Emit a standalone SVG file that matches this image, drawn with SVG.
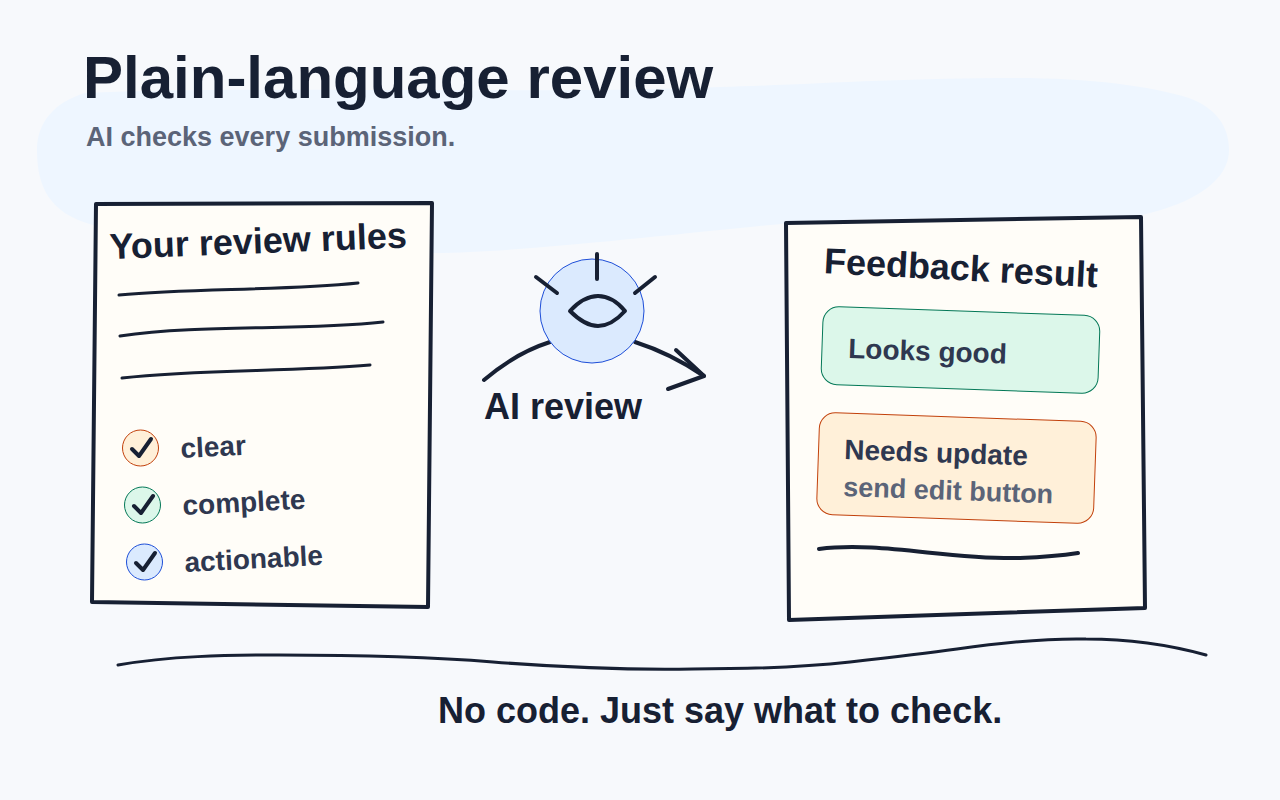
<svg xmlns="http://www.w3.org/2000/svg" width="1280" height="800" viewBox="0 0 1280 800">
<style>
text{font-family:"Liberation Sans",Arial,sans-serif;font-weight:700}
.ink{fill:none;stroke:#172033;stroke-linecap:round;stroke-linejoin:round}
.paper{fill:#fffdf8;stroke:#172033;stroke-width:4;stroke-linejoin:round}
.h{fill:#172033}
.b{fill:#2f3850}
.m{fill:#5b6478}
</style>
<rect width="1280" height="800" fill="#f7f9fc"/>
<path id="blob" d="M85 93C55 102 37 122 37 150C37 185 48 213 93 225C180 240 330 255 434 253C520 252 640 238 790 223C900 214 1050 222 1142 215C1195 203 1229 180 1229 150C1229 125 1215 108 1189 98C1150 86 1090 78 1015 78C900 78 800 85 720 87C520 95 250 85 85 93Z" fill="#eef6ff"/>
<text x="83" y="98" font-size="60" class="h">Plain-language review</text>
<text x="86" y="146" font-size="27" class="m">AI checks every submission.</text>
<g id="rules">
<path class="paper" d="M96 204L432 203L428 607L92 602Z"/>
<text transform="translate(110 259) rotate(-2.2)" font-size="36" class="h">Your review rules</text>
<path class="ink" stroke-width="3" d="M119 295C190 288 280 291 358 283"/>
<path class="ink" stroke-width="3" d="M120 336C200 324 300 331 383 322"/>
<path class="ink" stroke-width="3" d="M122 378C200 369 290 372 370 365"/>
</g>
<g id="check-clear">
<circle cx="140.500" cy="448" r="18" fill="#fff0d9" stroke="#c2410c" stroke-width="1"/>
<path class="ink" stroke-width="4" d="M132 449L139 456L151 439"/>
<text transform="translate(181 458) rotate(-3)" font-size="28" class="b">clear</text>
</g>
<g id="check-complete">
<circle cx="142.500" cy="505" r="18" fill="#dcf7ea" stroke="#047857" stroke-width="1"/>
<path class="ink" stroke-width="4" d="M134 506L141 513L153 496"/>
<text transform="translate(183 515) rotate(-3)" font-size="28" class="b">complete</text>
</g>
<g id="check-actionable">
<circle cx="144.500" cy="562" r="18" fill="#dbeafe" stroke="#1d4ed8" stroke-width="1"/>
<path class="ink" stroke-width="4" d="M136 563L143 570L155 553"/>
<text transform="translate(185 572) rotate(-3)" font-size="28" class="b">actionable</text>
</g>
<g id="connectors">
<path class="ink" stroke-width="4" d="M484 380C505 362 525 350 550 342"/>
<path class="ink" stroke-width="4" d="M635 342C660 350 685 363 704 376"/>
<path class="ink" stroke-width="4" d="M676 350L704 376L668 389"/>
</g>
<g id="ai-review">
<circle cx="592" cy="311" r="52" fill="#dbeafe" stroke="#1d4ed8" stroke-width="1"/>
<path class="ink" stroke-width="4" d="M597 254V279"/>
<path class="ink" stroke-width="4" d="M536 277L557 293"/>
<path class="ink" stroke-width="4" d="M655 277L635 293"/>
<path class="ink" stroke-width="4" d="M570 311C581 299 590 296 598 296C606 296 615 299 625 311C615 322 606 326 598 326C590 326 581 322 570 311Z"/>
<text x="484" y="419" font-size="36" class="h">AI review</text>
</g>
<g id="result">
<path class="paper" d="M786 223L1141 217L1145 608L789 620Z"/>
<text transform="translate(823.500 273) rotate(3)" font-size="36" class="h">Feedback result</text>
</g>
<g id="looks-good">
<rect x="822" y="311" width="277" height="78" rx="16" transform="rotate(2 960 350)" fill="#dcf7ea" stroke="#047857" stroke-width="1"/>
<text transform="translate(848 358) rotate(2)" font-size="28" class="b">Looks good</text>
</g>
<g id="needs-update">
<rect x="818" y="417" width="277" height="102" rx="16" transform="rotate(2 956 468)" fill="#fff0d9" stroke="#c2410c" stroke-width="1"/>
<text transform="translate(844 459) rotate(2)" font-size="28" class="b">Needs update</text>
<text transform="translate(843 496) rotate(2)" font-size="27" class="m">send edit button</text>
</g>
<path id="result-line" class="ink" stroke-width="4" d="M819 549C880 541 950 560 1020 558C1045 557 1065 555 1078 553"/>
<path id="baseline" class="ink" stroke-width="3" d="M118 665C170 656 225 655 279 655C350 655 420 656 493 662C570 668 635 670 693 669C760 669 805 667 850 662C885 658 920 654 957 649C1000 643 1045 638 1086 639C1130 639 1170 645 1206 655"/>
<text x="438" y="723" font-size="36" class="h">No code. Just say what to check.</text>
</svg>
